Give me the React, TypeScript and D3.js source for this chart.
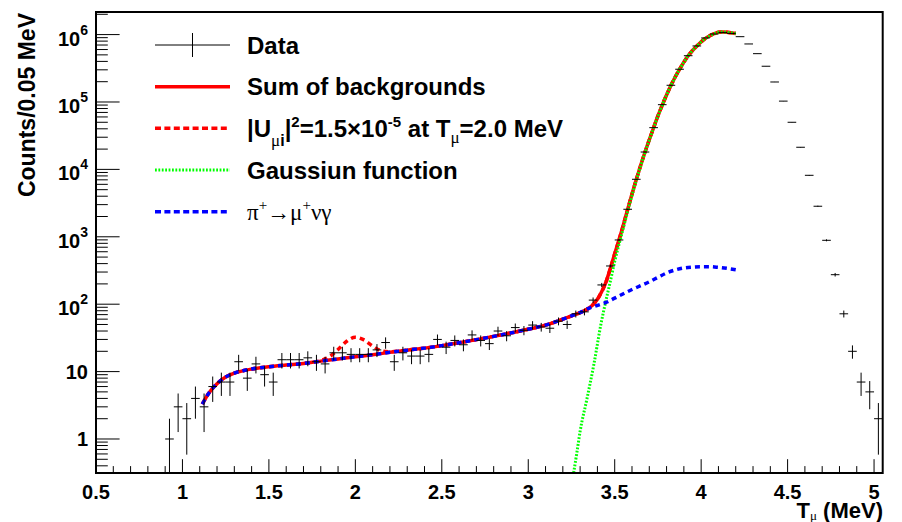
import React from 'react';
import * as d3 from 'd3';

// ---------- data ----------
const dataX = [0.925, 0.975, 1.025, 1.075, 1.125, 1.175, 1.225, 1.275, 1.325, 1.375, 1.425, 1.475, 1.525, 1.575, 1.625, 1.675, 1.725, 1.775, 1.825, 1.875, 1.925, 1.975, 2.025, 2.075, 2.125, 2.175, 2.225, 2.275, 2.325, 2.375, 2.425, 2.475, 2.525, 2.575, 2.625, 2.675, 2.725, 2.775, 2.825, 2.875, 2.925, 2.975, 3.025, 3.075, 3.125, 3.175, 3.225, 3.275, 3.325, 3.375, 3.425, 3.475, 3.525, 3.575, 3.625, 3.675, 3.725, 3.775, 3.825, 3.875, 3.925, 3.975, 4.025, 4.075, 4.125, 4.175, 4.225, 4.275, 4.325, 4.375, 4.425, 4.475, 4.525, 4.575, 4.625, 4.675, 4.725, 4.775, 4.825, 4.875, 4.925, 4.975, 5.025];
const dataY = [1, 3, 2, 4, 3, 6, 7, 7, 14, 8, 13, 9, 7, 15, 15, 15, 16, 14, 13, 19, 19, 18, 18, 18, 21, 27, 14, 19, 17, 17, 18, 30, 23, 29, 25, 35, 29, 26, 40, 34, 45, 41, 49, 46, 44, 56, 50, 72, 77, 115, 193, 369, 897, 2560, 7130, 18100, 41600, 91200, 177000, 306000, 486000, 678000, 891000, 1020000, 1070000, 1040000, 931000, 726000, 521000, 339000, 198000, 103000, 50000, 21300, 8170, 2840, 887, 274, 72, 20, 7, 5, 2];
const binHalfWidth = 0.025;

// Sum of backgrounds
const sumX = [1.115, 1.15, 1.2, 1.25, 1.3, 1.35, 1.4, 1.5, 1.6, 1.7, 1.8, 1.9, 2.0, 2.1, 2.2, 2.3, 2.4, 2.5, 2.6, 2.7, 2.8, 2.9, 3.0, 3.1, 3.2, 3.25, 3.3, 3.35, 3.38, 3.4, 3.42, 3.45, 3.475, 3.5, 3.525, 3.55, 3.575, 3.6, 3.625, 3.65, 3.675, 3.7, 3.725, 3.75, 3.775, 3.8, 3.825, 3.85, 3.875, 3.9, 3.925, 3.95, 3.975, 4.0, 4.025, 4.05, 4.075, 4.1, 4.125, 4.15, 4.2];
const sumY = [3.3, 4.7, 6.6, 8.3, 9.5, 10.3, 10.9, 11.8, 12.5, 13.2, 14.3, 15.4, 16.6, 17.8, 19.3, 20.8, 22.3, 24.3, 26.8, 29.8, 33.3, 37.5, 42.5, 49, 60, 67, 75, 87, 102, 118, 145, 215, 340, 560, 900, 1500, 2550, 4300, 7100, 11400, 18000, 27500, 41500, 62000, 90000, 127000, 176000, 235000, 305000, 390000, 485000, 580000, 675000, 780000, 880000, 960000, 1030000, 1080000, 1090000, 1080000, 1040000];

// Signal hypothesis bump (|U|^2 = 1.5e-5 at 2.0 MeV), replaces the background in this range
const signalBumpX = [1.8, 1.85, 1.9, 1.95, 2.0, 2.05, 2.1, 2.15, 2.2, 2.25];
const signalBumpY = [14.6, 16.6, 21.3, 28.2, 32.3, 29.5, 23.9, 20.4, 19.7, 20.1];

// Gaussian function
const gaussX = [3.25, 3.28, 3.3, 3.34, 3.38, 3.42, 3.45, 3.475, 3.5, 3.525, 3.55, 3.575, 3.6, 3.625, 3.65, 3.675, 3.7, 3.725, 3.75, 3.775, 3.8, 3.825, 3.85, 3.875, 3.9, 3.925, 3.95, 3.975, 4.0, 4.025, 4.05, 4.075, 4.1, 4.125, 4.15, 4.2];
const gaussY = [0.2, 0.6, 1.3, 4.0, 13, 50, 115, 220, 430, 770, 1350, 2400, 4130, 6930, 11200, 17800, 27300, 41300, 61800, 89800, 127000, 176000, 235000, 305000, 390000, 485000, 580000, 675000, 780000, 880000, 960000, 1030000, 1080000, 1090000, 1080000, 1040000];

// pi+ -> mu+ nu gamma: follows the background sum up to 3.35 MeV, then this tail
const radTailX = [3.38, 3.42, 3.45, 3.5, 3.55, 3.6, 3.65, 3.7, 3.75, 3.8, 3.85, 3.9, 3.95, 4.0, 4.05, 4.1, 4.15, 4.2];
const radTailY = [92, 100, 106, 123, 143, 165, 188, 215, 250, 290, 322, 345, 355, 360, 360, 352, 340, 325];

const xTickValues = [0.5, 1, 1.5, 2, 2.5, 3, 3.5, 4, 4.5, 5];
const xTickLabels = ['0.5', '1', '1.5', '2', '2.5', '3', '3.5', '4', '4.5', '5'];
const yTickValues = [1, 10, 100, 1000, 10000, 100000, 1000000];
const yTickBase = ['1', '10', '10', '10', '10', '10', '10'];
const yTickExp = ['', '', '2', '3', '4', '5', '6'];

const X_MIN = 0.5, X_MAX = 5.05;
const Y_MIN = 0.313, Y_MAX = 2.163e6;

const FONT = "'Liberation Sans', Arial, Helvetica, sans-serif";
const SYMBOL_FONT = "'Liberation Serif', 'DejaVu Serif', serif";

export default function App() {
  const W = 902, H = 522;
  const L = 96, R = 882.7, T = 12, B = 473;
  const x = d3.scaleLinear().domain([X_MIN, X_MAX]).range([L, R]);
  const y = d3.scaleLog().domain([Y_MIN, Y_MAX]).range([B, T]);

  const line = d3.line<[number, number]>()
    .x((d) => x(d[0]))
    .y((d) => y(d[1]))
    .curve(d3.curveMonotoneX);

  const sumPts: [number, number][] = sumX.map((v, i) => [v, sumY[i]]);
  const bumpLo = signalBumpX[0], bumpHi = signalBumpX[signalBumpX.length - 1];
  const signalPts: [number, number][] = [
    ...sumPts.filter((p) => p[0] < bumpLo),
    ...signalBumpX.map((v, i) => [v, signalBumpY[i]] as [number, number]),
    ...sumPts.filter((p) => p[0] > bumpHi),
  ];
  const gaussPts: [number, number][] = gaussX.map((v, i) => [v, gaussY[i]]);
  const radPts: [number, number][] = [
    ...sumPts.filter((p) => p[0] <= 3.35),
    ...radTailX.map((v, i) => [v, radTailY[i]] as [number, number]),
  ];

  // minor ticks
  const xMinor: number[] = [];
  for (let i = 6; i <= 50; i++) if (i % 5 !== 0) xMinor.push(i / 10);
  const yMinor: number[] = [];
  for (let e = -1; e <= 6; e++) {
    for (let m = 2; m <= 9; m++) {
      const v = m * Math.pow(10, e);
      if (v >= Y_MIN && v <= Y_MAX) yMinor.push(v);
    }
  }
  const yMajLen = 23.6, yMinLen = 11.8, xMajLen = 13.8, xMinLen = 6.9;

  const legendX1 = 155, legendX2 = 230, legendText = 247;
  const rows = [45, 86.7, 128.3, 170, 211.7];
  const base = (r: number) => r + 8.6;

  return (
    <svg width={W} height={H} style={{ position: 'absolute', left: 0, top: 0, background: '#fff' }} fontFamily={FONT}>
      <rect x={0} y={0} width={W} height={H} fill="#fff" />
      <defs>
        <clipPath id="frameClip">
          <rect x={L} y={T} width={R - L} height={B - T} />
        </clipPath>
      </defs>

      {/* curves */}
      <g clipPath="url(#frameClip)" fill="none">
        <path d={line(sumPts) || ''} stroke="#ff0000" strokeWidth={3.5} />
        <path d={line(signalPts) || ''} stroke="#ff0000" strokeWidth={3.5} strokeDasharray="5 4" />
        <path d={line(gaussPts) || ''} stroke="#00ff00" strokeWidth={3} strokeDasharray="1.8 1.6" />
        <path d={line(radPts) || ''} stroke="#0000ff" strokeWidth={3.5} strokeDasharray="5 4" />
      </g>

      {/* data points */}
      <g clipPath="url(#frameClip)" stroke="#000" strokeWidth={1}>
        {dataX.map((c, i) => {
          const v = dataY[i];
          const err = Math.sqrt(v);
          const lo = Math.max(v - err, Y_MIN * 0.5);
          const hi = v + err;
          return (
            <g key={i}>
              <line x1={x(c - binHalfWidth)} x2={x(c + binHalfWidth)} y1={y(v)} y2={y(v)} />
              <line x1={x(c)} x2={x(c)} y1={y(lo)} y2={y(hi)} />
            </g>
          );
        })}
      </g>

      {/* frame */}
      <rect x={L} y={T} width={R - L} height={B - T} fill="none" stroke="#000" strokeWidth={2} />

      {/* ticks */}
      <g stroke="#000" strokeWidth={1}>
        {xTickValues.map((v) => (
          <line key={'xm' + v} x1={x(v)} x2={x(v)} y1={B} y2={B - xMajLen} />
        ))}
        {xMinor.map((v) => (
          <line key={'xn' + v} x1={x(v)} x2={x(v)} y1={B} y2={B - xMinLen} />
        ))}
        {yTickValues.map((v) => (
          <line key={'ym' + v} x1={L} x2={L + yMajLen} y1={y(v)} y2={y(v)} />
        ))}
        {yMinor.map((v) => (
          <line key={'yn' + v} x1={L} x2={L + yMinLen} y1={y(v)} y2={y(v)} />
        ))}
      </g>

      {/* x tick labels */}
      <g fontSize={20} fontWeight="bold" textAnchor="middle" fill="#000">
        {xTickValues.map((v, i) => (
          <text key={'xl' + v} x={x(v)} y={499}>{xTickLabels[i]}</text>
        ))}
      </g>

      {/* y tick labels */}
      <g fontSize={20} fontWeight="bold" textAnchor="end" fill="#000">
        {yTickValues.map((v, i) =>
          yTickExp[i] === '' ? (
            <text key={'yl' + v} x={88} y={y(v) + 7}>{yTickBase[i]}</text>
          ) : (
            <text key={'yl' + v} x={88} y={y(v) + 11}>
              {yTickBase[i]}
              <tspan fontSize={14} dy={-11}>{yTickExp[i]}</tspan>
            </text>
          )
        )}
      </g>

      {/* axis titles */}
      <text transform="translate(35,13) rotate(-90)" textAnchor="end" fontSize={23} fontWeight="bold">
        Counts/0.05 MeV
      </text>
      <text x={883} y={518} textAnchor="end" fontSize={22} fontWeight="bold">
        T<tspan fontSize={13} dy={2} fontFamily={SYMBOL_FONT} fontWeight="normal">μ</tspan><tspan dy={-2}> (MeV)</tspan>
      </text>

      {/* legend */}
      <g>
        <line x1={legendX1} x2={legendX2} y1={rows[0]} y2={rows[0]} stroke="#000" strokeWidth={1} />
        <line x1={(legendX1 + legendX2) / 2} x2={(legendX1 + legendX2) / 2} y1={rows[0] - 12} y2={rows[0] + 12} stroke="#000" strokeWidth={1} />
        <line x1={legendX1} x2={legendX2} y1={rows[1]} y2={rows[1]} stroke="#ff0000" strokeWidth={3.5} />
        <line x1={legendX1} x2={legendX2} y1={rows[2]} y2={rows[2]} stroke="#ff0000" strokeWidth={3.5} strokeDasharray="6 3.4" />
        <line x1={legendX1} x2={legendX2} y1={rows[3]} y2={rows[3]} stroke="#00ff00" strokeWidth={3} strokeDasharray="1.8 1.6" />
        <line x1={legendX1} x2={legendX2} y1={rows[4]} y2={rows[4]} stroke="#0000ff" strokeWidth={3.5} strokeDasharray="6 3.4" />
      </g>
      <g fontSize={24} fontWeight="bold" fill="#000">
        <text x={legendText} y={base(rows[0])}>Data</text>
        <text x={legendText} y={base(rows[1])}>Sum of backgrounds</text>
        <text x={legendText} y={base(rows[2])}>
          |U<tspan fontSize={17} dy={9} fontFamily={SYMBOL_FONT} fontWeight="normal">μ</tspan>
          <tspan fontSize={16} dy={0}>i</tspan>
          <tspan dy={-9}>|</tspan>
          <tspan fontSize={15} dy={-10}>2</tspan>
          <tspan dy={10}>=1.5×10</tspan>
          <tspan fontSize={15} dy={-10}>-5</tspan>
          <tspan dy={10}> at T</tspan>
          <tspan fontSize={17} dy={6} fontFamily={SYMBOL_FONT} fontWeight="normal">μ</tspan>
          <tspan dy={-6}>=2.0 MeV</tspan>
        </text>
        <text x={legendText} y={base(rows[3])}>Gaussiun function</text>
        <text x={legendText} y={base(rows[4])} fontWeight="normal" fontFamily={SYMBOL_FONT} fontSize={23}>
          π<tspan fontSize={15} dy={-10}>+</tspan>
          <tspan dy={10}>→μ</tspan>
          <tspan fontSize={15} dy={-10}>+</tspan>
          <tspan dy={10}>νγ</tspan>
        </text>
      </g>
    </svg>
  );
}
